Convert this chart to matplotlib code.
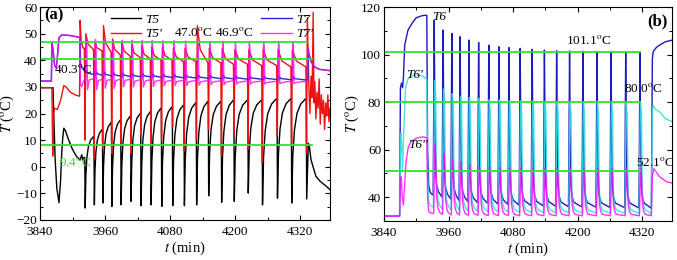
import matplotlib
matplotlib.use('Agg')
import matplotlib.pyplot as plt
from matplotlib.ticker import MultipleLocator

plt.rcParams['font.family'] = ['Liberation Serif', 'DejaVu Serif']
plt.rcParams['mathtext.fontset'] = 'stix'
plt.rcParams['font.size'] = 9.5

# ---------------- panel (a) data ----------------
# times of the black (T5) troughs, one per cycle
a_cycle_t = [3923.4, 3940.3, 3956.0, 3972.6, 3989.7, 4008.0, 4026.5, 4045.0, 4064.6, 4084.9,
             4106.4, 4129.0, 4151.2, 4175.1, 4198.4, 4224.2, 4250.5, 4278.1, 4304.4, 4332.0]

# T5 (black)
t5_peak = [3.5, 11.4, 14.0, 16.6, 17.6, 19.0, 20.0, 20.7, 22.0, 22.5,
           23.2, 24.0, 24.5, 24.5, 25.0, 25.0, 25.0, 25.5, 25.5, 25.5]
t5_trough = [-15.5, -14.3, -13.6, -14.9, -14.3, -13.0, -14.6, -14.3, -14.9, -14.6,
             -14.6, -14.3, -10.9, -13.4, -13.0, -9.9, -14.3, -11.8, -13.6, -12.1]
t5_pre_t = [3840, 3864, 3866, 3868, 3871, 3875, 3878, 3880, 3882, 3884, 3887, 3893, 3900, 3907, 3914, 3917, 3919, 3921.5]
t5_pre_v = [29.7, 29.7, 15, 2.6, -8, -13.5, -5, 5, 11, 14.5, 13.5, 10, 6.5, 4, 2.5, 4.5, 2.5, 3.5]
t5_tail_t = [4335, 4337, 4340, 4349, 4357, 4365, 4375]
t5_tail_v = [8.8, 7.5, 2.6, -3.6, -5.5, -6.8, -8.6]
# shape of the recovery between two troughs (fraction of cycle, fraction of rise)
rise_frac_t = [0.07, 0.18, 0.35, 0.6, 0.92]
rise_frac_v = [0.45, 0.7, 0.86, 0.95, 1.0]

# T5' (red)
t5p_level = [44.5, 44, 43.5, 43, 42, 41.5, 41, 40.5, 40, 40,
             39.5, 39.5, 39, 39, 38.5, 38.5, 38, 38, 37.5, 37.5]
t5p_trough = [10, 2.6, 7, 5, 9, 5, 12, 8, 10, 15, 6, 10, 14, 4, 12, 6.5, 1.5, 12, 9, 5]
t5p_peak = [50, 47, 53, 48, 47, 46, 45.5, 45, 45, 44.5, 44.5, 53, 44.5, 44.5, 44, 44, 44, 44, 44, 56]
t5p_pre_t = [3840, 3862, 3863.5, 3865, 3867, 3872, 3878, 3884, 3888, 3896, 3905, 3913, 3914, 3916, 3919, 3920.5]
t5p_pre_v = [29.7, 29.7, 4, 20, 22, 21.5, 25, 30.5, 30, 28, 27, 26.5, 55, 47, 45, 44.5]
t5p_tail_t = [4336, 4338, 4340, 4342, 4344, 4345.5, 4347, 4349, 4351, 4353, 4355,
              4357, 4359, 4361, 4363, 4365, 4367, 4369, 4371, 4373, 4375]
t5p_tail_v = [30, 20, 34, 26, 58, 24, 32, 18, 28, 22, 33, 16, 27, 20, 25, 14, 24, 19, 27, 17, 22]

# T7' (magenta)
t7p_peak = [48.0, 47.8, 47.6, 47.5, 47.5, 47.5, 47.4, 47.4, 47.3, 47.3,
            47.2, 47.2, 47.1, 47.0, 47.0, 47.0, 46.9, 46.9, 46.9, 44.5]
t7p_low = [29.0, 29.0, 29.5, 29.5, 30.0, 30.0, 30.0, 30.2, 30.4, 30.5,
           30.5, 30.6, 30.8, 30.8, 31.0, 31.0, 31.0, 31.2, 31.2, 31.2]
t7p_base = [33.5, 33.2, 33.0, 33.0, 33.0, 33.0, 32.8, 32.8, 32.7, 32.6,
            32.6, 32.5, 32.5, 32.4, 32.4, 32.3, 32.3, 32.2, 32.2, 32.2]
t7p_pre_t = [3840, 3861, 3862, 3864, 3867, 3870, 3872, 3875, 3880, 3895, 3910, 3913.5, 3914.5, 3917, 3919]
t7p_pre_v = [32.2, 32.2, 46.5, 44, 38, 37, 41, 48.5, 49.5, 49.3, 48.7, 48.5, 31, 30, 31.5]
t7_tail_t = [4336, 4340, 4346, 4355, 4375]
t7_tail_v = [42.6, 39.5, 37.6, 36.6, 36.1]

# T7 (blue)
t7_peak = [36.0, 35.8, 35.6, 35.4, 35.2, 35.0, 35.0, 34.9, 34.8, 34.7,
           34.6, 34.5, 34.4, 34.3, 34.2, 34.1, 34.0, 34.0, 33.9, 44.5]
t7_base = [36.0, 34.5, 34.2, 34.0, 33.9, 33.8, 33.7, 33.6, 33.5, 33.4,
           33.3, 33.2, 33.1, 33.0, 32.9, 32.8, 32.8, 32.7, 32.6, 32.5]
t7_pre_t = [3840, 3861, 3862, 3864, 3867, 3870, 3872, 3875, 3880, 3895, 3910, 3913.5, 3915, 3920]
t7_pre_v = [32.2, 32.2, 46.5, 44, 38, 37, 41, 48.5, 49.5, 49.3, 48.7, 48.5, 38, 36.5]

a_green = [46.9, 40.3, 8.2]
a_green_end = [4333, 4342, 4342]

# ---------------- panel (b) data ----------------
b_spike_t = [3933.3, 3949.8, 3966.0, 3981.4, 3997.8, 4015.8, 4034.7, 4053.6, 4072.2, 4093.0,
             4115.3, 4138.0, 4160.7, 4184.7, 4209.6, 4235.6, 4261.7, 4289.0, 4315.5]

t6_peak = [114.5, 110.3, 108.9, 107.5, 106.1, 105.1, 104.0, 103.3, 102.9, 102.6,
           102.2, 101.9, 101.6, 101.5, 101.4, 101.3, 101.2, 101.1, 101.1]
t6_valley = [41.0, 40.0, 39.2, 38.6, 38.1, 37.7, 37.4, 37.1, 36.9, 36.7,
             36.5, 36.3, 36.2, 36.0, 35.9, 35.8, 35.7, 35.6, 35.5]
t6_pre_t = [3840, 3869, 3870.5, 3872.5, 3874.5, 3876, 3878.5, 3884.6, 3894, 3900, 3910, 3916, 3919.5, 3921, 3923, 3926, 3930]
t6_pre_v = [32.1, 32.1, 86, 88, 86, 90, 104, 110.3, 113.8, 115.5, 116.3, 116.5, 116.5, 60, 45, 42, 41]
t6_tail_t = [4336.6, 4338.5, 4340, 4346, 4352, 4363, 4376]
t6_tail_v = [35.4, 98, 101.2, 103, 104, 105.4, 106.1]
# spike shape: time offsets from the spike and fraction of the swing
t6_shape_t = [-2.0, -1.0, 0.0, 1.2, 2.5, 4.5, 8.0]
t6_shape_f = [0.0, 0.45, 1.0, 0.45, 0.14, 0.07, 0.03]

t6p_peak = [89.0, 85.5, 83.5, 82.5, 82.0, 81.5, 81.0, 81.0, 80.5, 80.5,
            80.5, 80.2, 80.2, 80.0, 80.0, 80.0, 80.0, 80.0, 80.0]
t6p_valley = [36.0, 35.0, 34.6, 34.4, 34.2, 34.0, 33.9, 33.8, 33.7, 33.6,
              33.5, 33.5, 33.4, 33.4, 33.3, 33.3, 33.2, 33.2, 33.2]
t6p_pre_t = [3840, 3869, 3870.5, 3872, 3874.5, 3877, 3880, 3884, 3890, 3900, 3912, 3917, 3919.5, 3921, 3923, 3926, 3930]
t6p_pre_v = [32, 32, 62, 67, 51, 70, 86, 89.5, 91, 91.4, 91, 90, 89.5, 50, 38, 36.5, 36]
t6p_tail_t = [4336.6, 4338.5, 4340, 4344, 4352, 4363, 4376]
t6p_tail_v = [33.1, 76, 78.7, 77, 75.9, 73, 71.7]
t6p_shape_t = [-1.5, -0.5, 0.8, 2.8, 4.3, 6.5, 10.0]
t6p_shape_f = [0.0, 0.5, 1.0, 0.9, 0.2, 0.08, 0.03]

t6pp_peak = [62.0, 58.4, 56.0, 54.8, 53.7, 53.0, 52.6, 52.4, 52.2, 52.2,
             52.1, 52.0, 52.0, 52.0, 52.0, 52.0, 52.0, 52.0, 52.0]
t6pp_valley = [33.2, 32.8, 32.6, 32.5, 32.4, 32.4, 32.3, 32.3, 32.3, 32.2,
               32.2, 32.2, 32.2, 32.2, 32.2, 32.2, 32.2, 32.2, 32.2]
t6pp_pre_t = [3840, 3869, 3870.5, 3872, 3874, 3876, 3878, 3881, 3885, 3890, 3900, 3912, 3919.5, 3921, 3923, 3926, 3930]
t6pp_pre_v = [32, 32, 46, 48.6, 40, 36.6, 44, 55, 61, 63.3, 64.8, 65.4, 65, 40, 34, 33.5, 33.2]
t6pp_tail_t = [4336.6, 4338.5, 4341, 4346, 4352, 4365, 4376]
t6pp_tail_v = [32.2, 49, 52, 50.5, 48.6, 46.5, 45.9]
t6pp_shape_t = [-1.0, 0.0, 1.2, 3.0, 4.6, 6.8, 10.0]
t6pp_shape_f = [0.0, 0.5, 1.0, 0.8, 0.25, 0.1, 0.03]

b_green = [101.1, 80.0, 51.2]
b_green_end = 4316


# ---------------- build curves ----------------
def black_curve():
    t, v = list(t5_pre_t), list(t5_pre_v)
    n = len(a_cycle_t)
    for i in range(n):
        t0 = a_cycle_t[i]
        t += [t0 - 0.8, t0]
        v += [t5_peak[i], t5_trough[i]]
        if i < n - 1:
            dt = a_cycle_t[i + 1] - t0
            for fr, f in zip(rise_frac_t, rise_frac_v):
                t.append(t0 + fr * dt)
                v.append(t5_trough[i] + f * (t5_peak[i + 1] - t5_trough[i]))
    return t + t5_tail_t, v + t5_tail_v


def red_curve():
    t, v = list(t5p_pre_t), list(t5p_pre_v)
    n = len(a_cycle_t)
    for i in range(n):
        t0 = a_cycle_t[i]
        t += [t0 - 1.5, t0 - 0.3, t0 + 1.2]
        v += [t5p_level[i], t5p_trough[i], t5p_peak[i]]
        if i < n - 1:
            dt = a_cycle_t[i + 1] - t0
            t.append(t0 + 0.3 * dt)
            v.append(t5p_level[i + 1] + 0.35 * (t5p_peak[i] - t5p_level[i + 1]))
    return t + t5p_tail_t, v + t5p_tail_v


def magenta_curve():
    t, v = list(t7p_pre_t), list(t7p_pre_v)
    n = len(a_cycle_t)
    for i in range(n):
        t0 = a_cycle_t[i]
        t += [t0 + 1.0, t0 + 2.0]
        v += [t7p_base[i], t7p_peak[i]]
        if i < n - 1:
            t += [t0 + 3.0, t0 + 4.3, t0 + 7.5]
            v += [t7p_peak[i] - 2.5, t7p_low[i], t7p_base[i + 1] - 0.6]
    return t + t7_tail_t, v + t7_tail_v


def blue_curve():
    t, v = list(t7_pre_t), list(t7_pre_v)
    n = len(a_cycle_t)
    for i in range(n):
        t0 = a_cycle_t[i]
        t += [t0 + 2.2, t0 + 3.0]
        v += [t7_base[i], t7_peak[i]]
        if i < n - 1:
            t.append(t0 + 6.0)
            v.append(t7_base[i + 1] + 0.4 * (t7_peak[i] - t7_base[i + 1]))
    return t + t7_tail_t, v + t7_tail_v


def spike_curve(pre_t, pre_v, valley, peak, tail_t, tail_v, shape_t, shape_f):
    t, v = list(pre_t), list(pre_v)
    n = len(b_spike_t)
    for i in range(n):
        ts = b_spike_t[i]
        nxt = valley[i + 1] if i < n - 1 else valley[i]
        for k, (dt, f) in enumerate(zip(shape_t, shape_f)):
            t.append(ts + dt)
            base = valley[i] if k <= 2 else nxt
            v.append(base + f * (peak[i] - base))
    return t + tail_t, v + tail_v


fig = plt.figure(figsize=(6.77, 2.6), dpi=100)
ax1 = fig.add_axes([40 / 677, 40 / 260, 290 / 677, 213 / 260])
ax2 = fig.add_axes([384 / 677, 39 / 260, 288 / 677, 214 / 260])

green = '#33e033'

# ---- panel (a)
tb, vb = black_curve()
l_t5, = ax1.plot(tb, vb, color='black', lw=1.0)
tr, vr = red_curve()
l_t5p, = ax1.plot(tr, vr, color='#ee1111', lw=1.0)
tbl, vbl = blue_curve()
l_t7, = ax1.plot(tbl, vbl, color='#2a2ad0', lw=1.0)
tm, vm = magenta_curve()
l_t7p, = ax1.plot(tm, vm, color='#ff00ff', lw=1.0, alpha=0.8)
for g, ge in zip(a_green, a_green_end):
    ax1.plot([3840, ge], [g, g], color=green, lw=1.3)

ax1.set_xlim(3840, 4375)
ax1.set_ylim(-20, 60)
ax1.xaxis.set_major_locator(MultipleLocator(120))
ax1.xaxis.set_minor_locator(MultipleLocator(60))
ax1.yaxis.set_major_locator(MultipleLocator(10))
ax1.yaxis.set_minor_locator(MultipleLocator(5))
ax1.set_xlabel('$t$ (min)', fontsize=10.5, labelpad=1)
ax1.set_ylabel('$T$ ($^{\\rm o}$C)', fontsize=10.5, labelpad=0)

ax1.text(3848, 57, '(a)', fontsize=12, fontweight='bold', va='center', ha='left')
ax1.text(4123, 50.3, '47.0$^{\\rm o}$C', ha='center', va='center')
ax1.text(4198, 50.3, '46.9$^{\\rm o}$C', ha='center', va='center')
ax1.text(3902, 36.4, '40.3$^{\\rm o}$C', ha='center', va='center')
ax1.text(3904, 1.5, '9.4$^{\\rm o}$C', ha='center', va='center', color=green)

leg_kw = dict(frameon=False, handlelength=2.3, labelspacing=0.2, handletextpad=0.3,
              borderaxespad=0, prop={'style': 'italic', 'size': 9.5})
leg1 = ax1.legend([l_t5, l_t5p], ['T5', "T5'"], loc='upper left', bbox_to_anchor=(0.225, 0.995), **leg_kw)
ax1.add_artist(leg1)
ax1.legend([l_t7, l_t7p], ['T7', "T7'"], loc='upper left', bbox_to_anchor=(0.745, 0.995), **leg_kw)

# ---- panel (b)
t6t, t6v = spike_curve(t6_pre_t, t6_pre_v, t6_valley, t6_peak, t6_tail_t, t6_tail_v, t6_shape_t, t6_shape_f)
ax2.plot(t6t, t6v, color='#1a1ac0', lw=1.0)
tc, vc = spike_curve(t6p_pre_t, t6p_pre_v, t6p_valley, t6p_peak, t6p_tail_t, t6p_tail_v, t6p_shape_t, t6p_shape_f)
ax2.plot(tc, vc, color='#33e0e0', lw=1.0, alpha=0.9)
tpp, vpp = spike_curve(t6pp_pre_t, t6pp_pre_v, t6pp_valley, t6pp_peak, t6pp_tail_t, t6pp_tail_v, t6pp_shape_t, t6pp_shape_f)
ax2.plot(tpp, vpp, color='#ff00ff', lw=1.0, alpha=0.8)
for g in b_green:
    ax2.plot([3840, b_green_end], [g, g], color=green, lw=1.3)

ax2.set_xlim(3840, 4375)
ax2.set_ylim(30, 120)
ax2.xaxis.set_major_locator(MultipleLocator(120))
ax2.xaxis.set_minor_locator(MultipleLocator(60))
ax2.yaxis.set_major_locator(MultipleLocator(20))
ax2.yaxis.set_minor_locator(MultipleLocator(10))
ax2.set_xlabel('$t$ (min)', fontsize=10.5, labelpad=1)
ax2.set_ylabel('$T$ ($^{\\rm o}$C)', fontsize=10.5, labelpad=0)

ax2.text(4348, 113.8, '(b)', fontsize=12, fontweight='bold', va='center', ha='center')
ax2.text(4221, 106.1, '101.1$^{\\rm o}$C', ha='center', va='center')
ax2.text(4321, 85.8, '80.0$^{\\rm o}$C', ha='center', va='center')
ax2.text(4344, 54.6, '52.1$^{\\rm o}$C', ha='center', va='center')
ax2.text(3943, 115.9, 'T6', style='italic', ha='center', va='center')
ax2.text(3897, 91.4, "T6'", style='italic', ha='center', va='center')
ax2.text(3904, 61.9, "T6''", style='italic', ha='center', va='center')

for ax in (ax1, ax2):
    ax.tick_params(which='both', direction='in', top=True, right=True, labelsize=9.5)
    ax.tick_params(axis='x', pad=4.5)
    ax.tick_params(axis='y', pad=2)
    ax.tick_params(which='major', length=3.5, width=0.8)
    ax.tick_params(which='minor', length=2, width=0.7)
    for s in ax.spines.values():
        s.set_linewidth(0.8)

fig.savefig('out.png', dpi=100)
